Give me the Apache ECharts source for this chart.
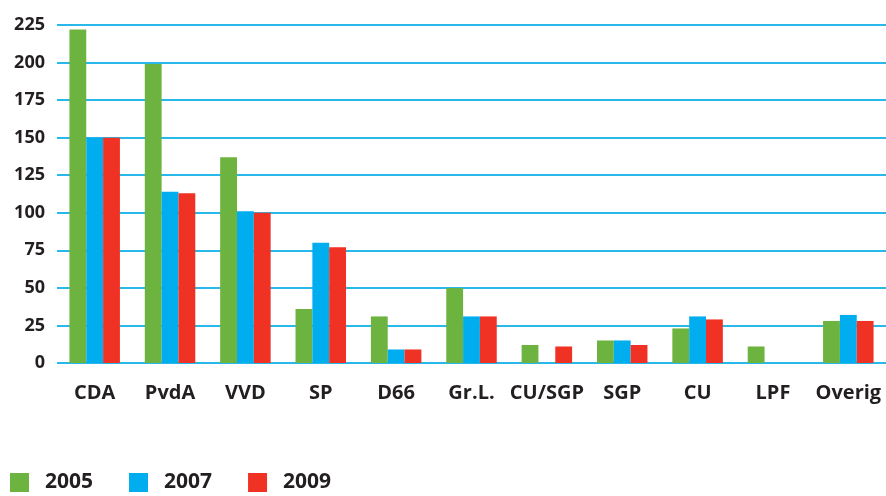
<!DOCTYPE html>
<html>
<head>
<meta charset="utf-8">
<script src="https://cdn.jsdelivr.net/npm/echarts@6/dist/echarts.min.js"></script>
<style>
  html, body { margin: 0; padding: 0; background: #fff; }
  #chart { width: 886px; height: 496px; }
</style>
</head>
<body>
<div id="chart"></div>
<script>
let parties = ['CDA', 'PvdA', 'VVD', 'SP', 'D66', 'Gr.L.', 'CU/SGP', 'SGP', 'CU', 'LPF', 'Overig'];
let years = ['2005', '2007', '2009'];
let values2005 = [222, 199, 137, 36, 31, 50, 12, 15, 23, 11, 28];
let values2007 = [150, 114, 101, 80, 9, 31, null, 15, 31, null, 32];
let values2009 = [150, 113, 100, 77, 9, 31, 11, 12, 29, null, 28];
let colors = ['#6db33f', '#00adef', '#ef3224'];

const makeSeries = (name, data, i) => {
    return {
        name: name,
        type: 'bar',
        data: data,
        barGap: 0,
        barCategoryGap: '33%',
        itemStyle: { color: colors[i] },
        emphasis: { disabled: true }
    };
}

let myChart = echarts.init(document.getElementById('chart'));
let font = '"Open Sans", Lato, sans-serif';
let option = {
    backgroundColor: '#fff',
    animation: false,
    textStyle: { fontFamily: font },
    grid: { left: 57, right: 0, top: 25, bottom: 133, containLabel: false },
    legend: {
        left: 10,
        bottom: 3,
        padding: 0,
        icon: 'rect',
        itemWidth: 19,
        itemHeight: 19,
        itemGap: 36,
        data: years,
        textStyle: { fontSize: 21, fontWeight: 'bold', color: '#231f20', fontFamily: font, padding: [3, 0, 0, 11] }
    },
    xAxis: {
        type: 'category',
        data: parties,
        axisLine: { show: false },
        axisTick: { show: false },
        axisLabel: { interval: 0, margin: 20, fontSize: 20, fontWeight: 'bold', color: '#231f20', fontFamily: font }
    },
    yAxis: {
        type: 'value',
        min: 0,
        max: 225,
        interval: 25,
        axisLine: { show: false },
        axisTick: { show: false },
        splitLine: { lineStyle: { color: '#29b8ea', width: 2 } },
        axisLabel: { margin: 12, fontSize: 18, fontWeight: 'bold', color: '#231f20', fontFamily: font }
    },
    series: [
        makeSeries(years[0], values2005, 0),
        makeSeries(years[1], values2007, 1),
        makeSeries(years[2], values2009, 2)
    ]
};
myChart.setOption(option);
</script>
</body>
</html>
